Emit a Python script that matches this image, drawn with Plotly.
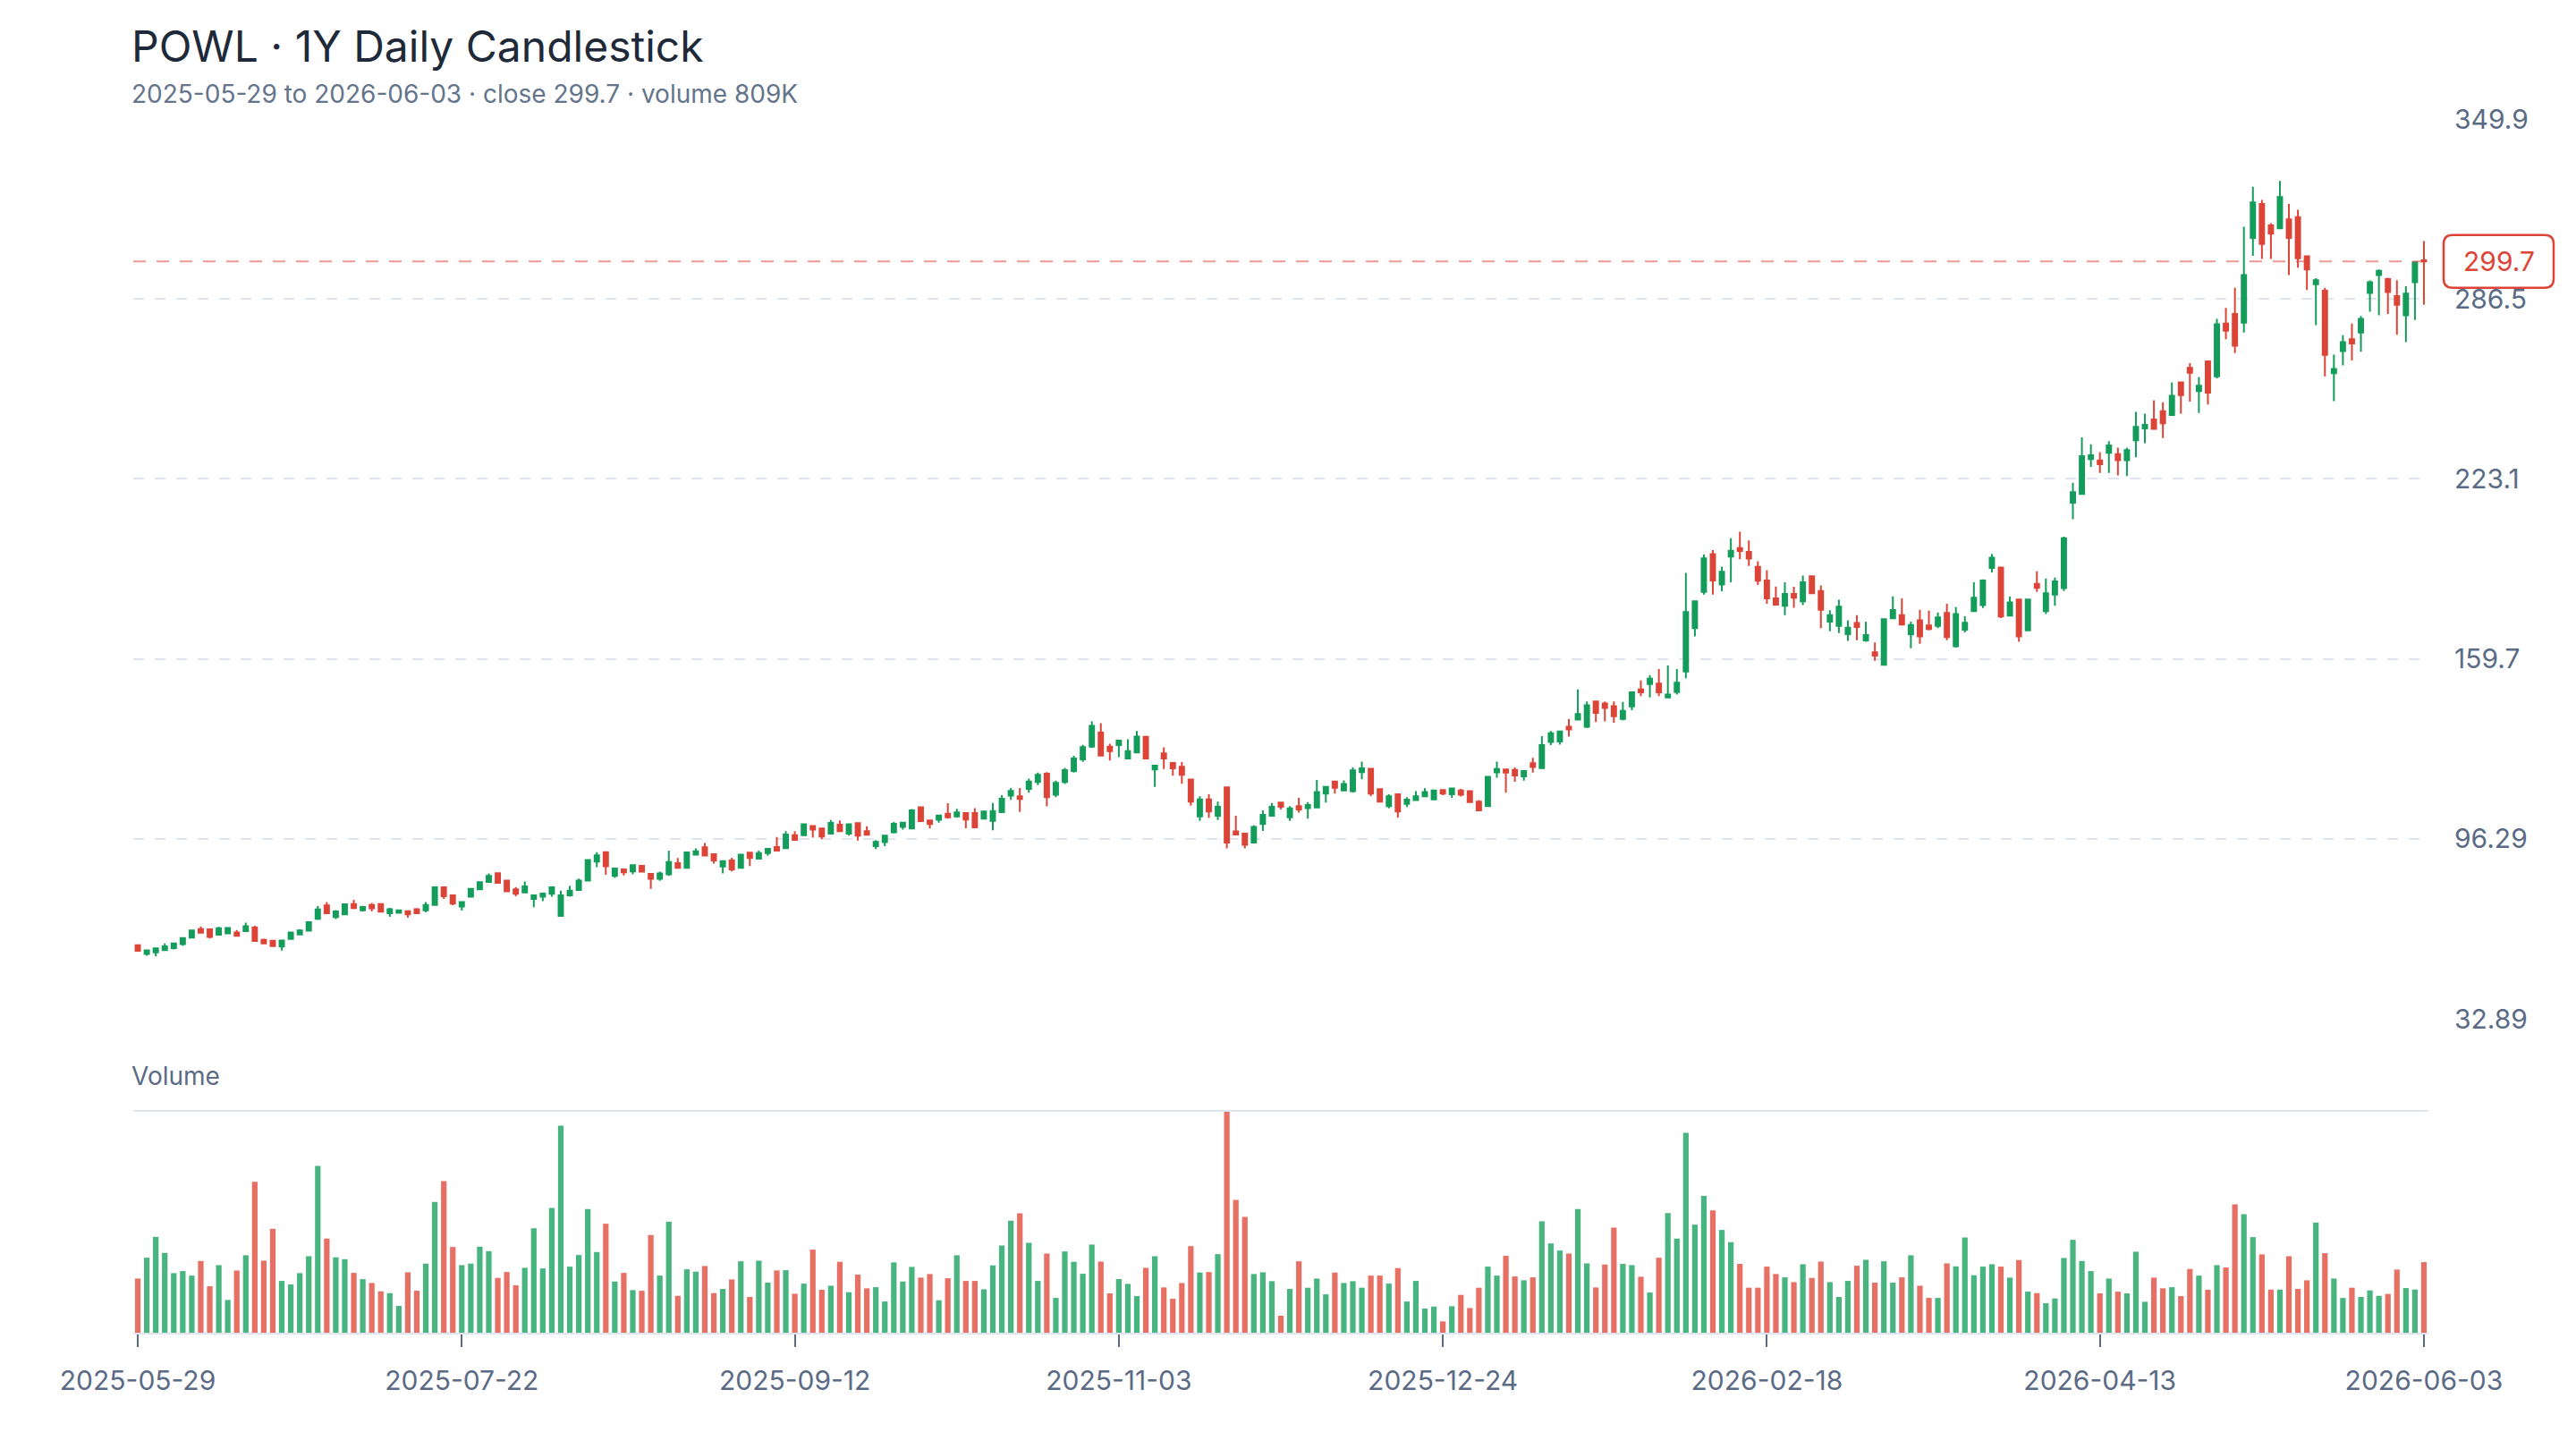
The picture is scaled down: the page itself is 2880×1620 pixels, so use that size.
import pandas as pd
import plotly.graph_objects as go

# ---------------- data ----------------
HOLIDAYS = ["2025-06-19", "2025-07-04", "2025-09-01", "2025-11-27", "2025-12-25",
            "2026-01-01", "2026-01-19", "2026-02-16", "2026-04-03", "2026-05-25"]
dates = pd.bdate_range("2025-05-29", "2026-06-03", freq="C",
                       holidays=HOLIDAYS).strftime("%Y-%m-%d").tolist()

TICK_DATES = ["2025-05-29", "2025-07-22", "2025-09-12", "2025-11-03",
              "2025-12-24", "2026-02-18", "2026-04-13", "2026-06-03"]
PRICE_TICKS = [32.89, 96.29, 159.7, 223.1, 286.5, 349.9]
PRICE_TICK_TEXT = ["32.89", "96.29", "159.7", "223.1", "286.5", "349.9"]
LAST_CLOSE = 299.7
VOL_MAX = 2543

open_ = [58.8, 55.7, 56.3, 57.1, 57.8, 59.2, 61.5, 64.5, 64.4, 62.5, 63.0, 63.3, 63.8, 65.0, 60.7, 60.4, 58.3, 61.0, 62.6, 63.9,
         68.1, 72.8, 68.7, 69.7, 73.3, 71.1, 73.0, 73.3, 70.1, 70.2, 70.8, 71.5, 71.1, 73.0, 79.2, 76.4, 72.4, 75.9, 78.5, 81.1,
         84.2, 81.6, 78.5, 77.4, 75.1, 75.9, 76.9, 69.1, 76.4, 78.3, 81.6, 88.3, 91.6, 83.2, 85.5, 84.8, 86.8, 83.9, 82.2, 83.8,
         87.7, 86.1, 90.7, 93.3, 90.9, 86.5, 88.7, 86.1, 91.4, 89.3, 91.3, 93.4, 93.0, 97.6, 97.6, 100.8, 99.9, 98.1, 101.3, 98.1,
         101.8, 99.0, 93.7, 95.1, 98.6, 100.5, 99.9, 107.4, 102.8, 103.0, 105.1, 104.2, 105.4, 105.4, 103.4, 102.6, 105.7, 111.5, 111.3, 113.9,
         116.3, 119.2, 111.8, 116.3, 120.2, 124.3, 128.8, 133.7, 128.8, 129.3, 124.6, 126.7, 132.2, 120.7, 126.4, 123.0, 121.7, 117.2, 104.2, 110.2,
         104.4, 114.4, 98.9, 98.1, 95.0, 101.5, 104.4, 109.1, 103.9, 107.8, 107.1, 107.3, 112.2, 116.5, 113.3, 113.1, 119.8, 121.0, 113.8, 107.8,
         112.0, 108.6, 109.9, 111.3, 110.2, 113.5, 112.0, 113.3, 113.1, 109.4, 107.8, 119.7, 120.7, 120.6, 118.3, 122.9, 121.2, 130.4, 130.6, 135.8,
         138.3, 135.8, 144.7, 144.0, 143.0, 138.5, 142.95, 148.9, 150.8, 151.0, 146.1, 148.0, 155.2, 170.5, 183.3, 196.6, 185.9, 195.7, 198.7, 197.4,
         192.1, 187.3, 181.0, 178.4, 182.6, 180.0, 188.8, 183.6, 172.8, 171.3, 168.4, 172.3, 166.2, 162.0, 157.6, 174.0, 175.1, 168.3, 173.3, 171.5,
         171.3, 175.9, 164.1, 170.0, 176.5, 178.6, 191.7, 191.9, 174.9, 180.6, 169.7, 186.1, 176.5, 182.3, 184.6, 214.7, 217.8, 230.1, 229.6, 232.3,
         231.8, 229.7, 236.7, 240.9, 244.0, 246.9, 245.6, 257.1, 262.2, 254.0, 264.5, 259.2, 277.8, 281.2, 278.1, 308.0, 320.0, 312.4, 311.4, 314.5,
         315.3, 301.5, 291.7, 289.4, 260.3, 268.1, 272.3, 274.7, 288.6, 294.9, 293.5, 287.5, 280.7, 292.4, 300.1]
high = [59.0, 57.1, 57.8, 59.4, 59.5, 61.4, 64.1, 65.4, 64.5, 65.3, 65.2, 64.2, 66.8, 65.7, 61.1, 60.5, 60.6, 63.4, 64.4, 67.0,
        72.6, 74.0, 71.2, 73.3, 74.8, 72.7, 73.7, 73.4, 72.0, 71.2, 70.9, 71.9, 74.0, 79.5, 79.3, 76.5, 74.1, 78.8, 81.3, 84.1,
        84.3, 81.9, 79.3, 81.3, 76.5, 77.1, 79.3, 78.0, 79.7, 82.3, 88.9, 91.6, 91.7, 85.9, 85.6, 87.1, 86.9, 84.0, 84.7, 92.1,
        89.5, 91.6, 92.9, 94.8, 91.0, 88.5, 89.6, 90.8, 91.5, 92.1, 93.1, 96.9, 99.0, 99.0, 101.5, 100.9, 100.0, 102.9, 102.8, 101.5,
        101.9, 100.7, 95.8, 97.5, 102.2, 102.1, 106.8, 107.5, 102.9, 104.6, 108.8, 106.9, 105.5, 107.1, 106.0, 108.9, 111.7, 114.2, 114.2, 117.5,
        119.6, 119.8, 116.8, 121.3, 125.5, 129.4, 137.7, 137.0, 129.8, 131.0, 131.4, 134.3, 132.3, 122.2, 128.5, 123.1, 123.3, 117.3, 111.3, 112.0,
        109.4, 114.5, 104.4, 98.2, 101.0, 106.3, 108.9, 109.2, 107.8, 110.7, 109.2, 117.0, 114.7, 116.6, 116.9, 121.4, 123.5, 121.1, 113.9, 112.0,
        112.1, 111.0, 113.1, 114.1, 113.4, 113.6, 114.1, 113.9, 113.2, 109.9, 118.2, 123.5, 120.8, 121.4, 120.3, 124.8, 132.5, 134.3, 134.2, 138.5,
        148.9, 144.7, 144.8, 144.7, 144.7, 144.5, 148.0, 152.1, 154.0, 156.1, 157.4, 156.1, 190.0, 180.1, 196.4, 198.0, 192.2, 202.2, 204.5, 201.4,
        194.1, 190.9, 185.2, 186.7, 185.1, 189.0, 188.9, 185.6, 176.8, 180.5, 173.3, 175.1, 172.8, 165.5, 173.8, 181.7, 181.0, 172.8, 177.0, 176.7,
        176.0, 179.1, 177.9, 174.7, 186.7, 187.7, 196.7, 192.0, 181.6, 180.7, 180.7, 190.5, 188.0, 188.3, 202.7, 221.7, 237.7, 235.3, 232.5, 236.4,
        234.1, 234.1, 246.7, 246.1, 250.8, 250.1, 257.1, 257.2, 263.9, 259.0, 264.6, 279.5, 283.3, 290.4, 311.9, 326.0, 321.4, 313.2, 328.1, 320.0,
        317.9, 301.6, 293.8, 290.4, 266.9, 273.7, 277.8, 280.5, 293.0, 296.9, 294.0, 293.1, 291.0, 299.5, 306.9]
low = [56.6, 55.1, 54.9, 57.0, 57.3, 58.6, 61.2, 63.1, 61.2, 62.4, 62.9, 62.0, 63.7, 60.2, 59.3, 58.4, 56.9, 60.9, 62.5, 63.8,
       67.7, 70.0, 68.0, 69.6, 71.5, 70.7, 70.7, 70.5, 68.8, 70.1, 68.5, 70.0, 70.4, 72.9, 75.1, 72.9, 71.0, 75.8, 78.4, 81.0,
       80.7, 77.7, 76.1, 77.3, 72.2, 74.3, 75.9, 69.0, 75.9, 78.2, 81.5, 86.3, 83.6, 82.5, 83.4, 83.8, 84.6, 78.7, 81.5, 83.2,
       86.0, 86.0, 90.6, 90.3, 87.6, 84.1, 84.8, 86.0, 86.7, 89.2, 90.3, 92.0, 92.9, 95.8, 97.5, 96.7, 96.2, 98.0, 98.9, 97.4,
       95.7, 97.6, 92.7, 93.7, 98.2, 99.5, 99.8, 102.4, 99.9, 102.0, 103.4, 103.7, 100.0, 100.2, 103.3, 99.3, 105.6, 110.0, 105.8, 112.5,
       115.2, 107.7, 111.0, 115.6, 119.6, 123.4, 128.3, 125.5, 123.9, 125.1, 124.5, 126.6, 124.5, 114.6, 120.9, 118.5, 115.7, 108.0, 102.6, 103.6,
       102.9, 92.9, 97.7, 92.9, 94.9, 99.1, 104.3, 106.6, 102.6, 105.5, 103.4, 107.2, 109.1, 112.2, 113.2, 112.5, 117.3, 111.3, 109.3, 107.0,
       103.8, 107.5, 109.8, 111.2, 110.1, 111.7, 110.7, 111.2, 109.1, 106.2, 107.7, 117.8, 112.5, 116.4, 116.8, 119.6, 121.1, 129.3, 129.5, 132.3,
       138.2, 135.3, 137.4, 137.7, 137.2, 138.0, 141.6, 146.6, 146.1, 146.6, 146.0, 147.1, 152.9, 167.6, 182.3, 182.3, 183.5, 186.7, 194.8, 192.4,
       185.7, 179.1, 178.7, 175.1, 177.7, 178.6, 182.7, 170.5, 169.4, 168.8, 166.0, 166.3, 165.7, 159.0, 157.5, 173.9, 171.7, 163.4, 165.0, 169.7,
       170.5, 166.3, 163.7, 169.0, 176.4, 177.6, 190.1, 174.1, 174.8, 165.7, 169.4, 183.3, 175.5, 178.4, 183.6, 208.9, 217.7, 227.3, 225.2, 225.2,
       224.3, 224.1, 230.7, 235.7, 240.4, 237.5, 245.5, 246.1, 250.3, 246.3, 249.3, 258.5, 272.3, 267.4, 274.7, 301.7, 300.6, 300.6, 311.3, 294.9,
       297.5, 289.6, 277.3, 259.2, 250.5, 263.1, 264.8, 267.9, 282.0, 280.7, 281.2, 273.9, 271.3, 279.1, 284.4]
close = [56.8, 57.0, 57.7, 58.4, 59.4, 61.3, 64.0, 63.2, 61.7, 64.8, 64.9, 62.1, 65.5, 60.3, 59.4, 58.5, 60.5, 63.3, 64.0, 66.9,
         71.4, 70.1, 70.7, 73.2, 71.9, 72.3, 71.8, 70.6, 71.5, 71.1, 69.7, 70.1, 73.0, 79.2, 76.1, 73.5, 74.0, 78.7, 81.0, 83.2,
         80.8, 77.8, 76.9, 79.5, 76.4, 77.0, 79.2, 76.4, 78.0, 81.6, 88.8, 90.5, 86.6, 85.8, 84.5, 87.0, 84.7, 82.2, 84.1, 88.1,
         86.1, 91.5, 91.9, 90.4, 88.7, 88.4, 85.5, 90.7, 89.5, 91.3, 92.8, 92.1, 97.8, 95.9, 101.4, 99.5, 97.1, 101.9, 99.0, 101.4,
         97.4, 97.7, 95.2, 97.4, 101.6, 102.0, 106.3, 102.5, 101.5, 104.5, 103.9, 105.6, 103.1, 100.3, 105.9, 106.1, 110.4, 113.2, 110.3, 116.5,
         118.8, 111.0, 116.0, 120.5, 124.6, 128.6, 136.1, 125.6, 127.2, 130.9, 127.2, 132.3, 124.6, 122.1, 124.6, 121.1, 118.8, 109.4, 110.2, 105.9,
         107.6, 95.0, 97.8, 94.2, 100.5, 104.7, 107.6, 107.6, 107.0, 106.6, 108.2, 112.8, 114.6, 114.3, 115.6, 120.4, 121.1, 112.2, 109.4, 111.3,
         105.9, 110.1, 111.3, 112.8, 113.3, 112.2, 114.0, 111.8, 109.2, 106.3, 118.1, 120.9, 119.6, 118.6, 120.2, 121.6, 129.3, 133.5, 134.1, 134.8,
         140.3, 143.3, 140.7, 142.4, 139.5, 141.4, 147.9, 147.9, 152.7, 147.9, 147.1, 151.3, 176.2, 180.0, 195.1, 187.3, 190.4, 197.8, 197.7, 195.0,
         187.2, 181.0, 178.8, 182.6, 181.2, 186.7, 182.8, 177.0, 175.1, 178.1, 170.7, 170.9, 168.1, 160.8, 173.7, 176.9, 171.8, 171.6, 167.6, 170.2,
         174.3, 167.4, 175.5, 172.4, 181.2, 187.3, 195.3, 174.6, 179.6, 167.6, 180.6, 184.7, 182.8, 187.0, 202.2, 218.4, 231.1, 231.4, 228.3, 234.9,
         229.7, 233.2, 241.4, 242.1, 240.7, 242.7, 252.4, 252.6, 260.5, 255.9, 253.5, 277.6, 275.3, 270.0, 294.9, 320.5, 305.9, 309.5, 322.4, 308.0,
         300.8, 296.9, 293.1, 266.8, 261.8, 271.3, 270.8, 279.5, 292.4, 296.4, 288.9, 284.4, 288.4, 299.4, 299.7]
volume_k = [621, 860, 1099, 915, 683, 707, 655, 823, 533, 775, 376, 713, 888, 1731, 826, 1191, 594, 553, 683, 877,
            1912, 1079, 864, 843, 686, 614, 570, 475, 454, 307, 693, 481, 792, 1499, 1738, 983, 775, 792, 987, 935,
            628, 696, 543, 744, 1198, 737, 1430, 2373, 758, 891, 1417, 925, 1250, 587, 686, 488, 481, 1120, 655, 1273,
            423, 727, 700, 765, 454, 502, 611, 819, 410, 826, 574, 714, 717, 447, 563, 953, 492, 539, 813, 464,
            666, 509, 522, 358, 806, 587, 755, 632, 673, 372, 625, 888, 594, 594, 498, 772, 1000, 1284, 1369, 1031,
            594, 908, 399, 932, 813, 676, 1011, 816, 451, 615, 560, 420, 744, 877, 519, 389, 570, 993, 690, 696,
            901, 2543, 1523, 1328, 673, 693, 591, 195, 502, 819, 516, 621, 440, 690, 570, 591, 516, 655, 655, 563,
            741, 358, 594, 277, 300, 130, 304, 434, 283, 516, 758, 655, 881, 645, 601, 635, 1277, 1024, 942, 908,
            1417, 795, 519, 782, 1205, 789, 775, 642, 461, 860, 1372, 1079, 2291, 1239, 1570, 1403, 1178, 1038, 789, 516,
            516, 758, 673, 635, 580, 785, 628, 816, 580, 410, 594, 768, 836, 574, 819, 574, 635, 888, 539, 399,
            399, 795, 761, 1092, 659, 758, 785, 758, 632, 833, 471, 454, 338, 393, 857, 1065, 823, 707, 451, 621,
            471, 451, 929, 355, 632, 509, 522, 420, 731, 655, 492, 775, 748, 1471, 1359, 1096, 898, 495, 495, 877,
            502, 601, 1263, 912, 621, 399, 516, 410, 485, 423, 444, 724, 512, 495, 809]

# ---------------- style ----------------
GREEN = "#149c5b"
RED = "#dd4438"
GREEN_VOL = "rgba(20,160,92,0.78)"
RED_VOL = "rgba(224,72,58,0.78)"
GRID = "#dfe4ee"
TEXT = "#5b6b85"
FONT = "Inter, Roboto, sans-serif"

vol_colors = [GREEN_VOL if c >= o else RED_VOL for o, c in zip(open_, close)]
volume = [v * 1000 for v in volume_k]

fig = go.Figure()
fig.add_trace(go.Candlestick(
    x=dates, open=open_, high=high, low=low, close=close,
    increasing=dict(line=dict(color=GREEN, width=2), fillcolor=GREEN),
    decreasing=dict(line=dict(color=RED, width=2), fillcolor=RED),
    whiskerwidth=0, xaxis="x", yaxis="y", showlegend=False, name="POWL"))
fig.add_trace(go.Bar(
    x=dates, y=volume, marker=dict(color=vol_colors, line=dict(width=0)),
    xaxis="x2", yaxis="y2", showlegend=False, name="Volume"))

W, H = 2880, 1620
L, R, T, B = 149, 165, 133, 130
ph = H - T - B  # 1357

price_bottom = (1490 - 1139) / ph
vol_top = (1490 - 1242) / ph

fig.update_layout(
    width=W, height=H,
    margin=dict(l=L, r=R, t=T, b=B, pad=0),
    paper_bgcolor="white", plot_bgcolor="white",
    font=dict(family=FONT, color=TEXT, size=30),
    bargap=0.38,
    xaxis=dict(type="category", domain=[0, 1], anchor="y", range=[-0.5, len(dates) - 0.5],
               showticklabels=False, showgrid=False, zeroline=False, showline=False,
               rangeslider=dict(visible=False), ticks=""),
    yaxis=dict(domain=[price_bottom, 1], anchor="x", side="right",
               range=[PRICE_TICKS[0], PRICE_TICKS[-1]],
               tickvals=PRICE_TICKS, ticktext=PRICE_TICK_TEXT,
               showgrid=True, gridcolor=GRID, gridwidth=2, griddash="12px,12px",
               zeroline=False, showline=False, ticks="", ticklabelstandoff=28,
               tickfont=dict(size=30, color=TEXT)),
    xaxis2=dict(type="category", domain=[0, 1], anchor="y2", matches="x",
                range=[-0.5, len(dates) - 0.5],
                tickvals=TICK_DATES, ticktext=TICK_DATES,
                showgrid=False, zeroline=False, showline=True, linecolor=GRID, linewidth=2,
                ticks="outside", ticklen=14, tickwidth=2, tickcolor=TEXT,
                tickfont=dict(size=30, color=TEXT), ticklabelstandoff=12),
    yaxis2=dict(domain=[0, vol_top], anchor="x2", range=[0, VOL_MAX * 1000],
                showgrid=False, zeroline=False, showline=False, showticklabels=False, ticks=""),
)

# volume panel top line
fig.add_shape(type="line", xref="paper", yref="y2 domain", x0=0, x1=1, y0=1, y1=1,
              line=dict(color=GRID, width=2))
# last close dashed line
fig.add_shape(type="line", xref="paper", yref="y", x0=0, x1=1, y0=LAST_CLOSE, y1=LAST_CLOSE,
              line=dict(color="rgba(224,69,58,0.55)", width=2, dash="14px,12px"), layer="above")
# rounded price tag
x0, x1, hh, r = 17, 140, 29.5, 10
path = (f"M {x0 + r},{-hh} L {x1 - r},{-hh} Q {x1},{-hh} {x1},{-hh + r} "
        f"L {x1},{hh - r} Q {x1},{hh} {x1 - r},{hh} L {x0 + r},{hh} "
        f"Q {x0},{hh} {x0},{hh - r} L {x0},{-hh + r} Q {x0},{-hh} {x0 + r},{-hh} Z")
fig.add_shape(type="path", xref="paper", yref="y", xsizemode="pixel", ysizemode="pixel",
              xanchor=1, yanchor=LAST_CLOSE, path=path,
              line=dict(color=RED, width=2.5), fillcolor="white", layer="above")
fig.add_annotation(xref="paper", yref="y", x=1, y=LAST_CLOSE, xshift=78.5,
                   text=f"{LAST_CLOSE:.1f}", showarrow=False,
                   font=dict(size=30, color=RED, family=FONT), xanchor="center", yanchor="middle")

# titles
fig.add_annotation(xref="paper", yref="paper", x=0, y=(1490 - 51) / ph, xanchor="left", yanchor="middle",
                   xshift=-4, text="POWL · 1Y Daily Candlestick", showarrow=False,
                   font=dict(size=48, color="#1e2939", family=FONT))
fig.add_annotation(xref="paper", yref="paper", x=0, y=(1490 - 105) / ph, xanchor="left", yanchor="middle",
                   xshift=-4,
                   text=f"{dates[0]} to {dates[-1]} · close {close[-1]:.1f} · volume {volume_k[-1]}K",
                   showarrow=False, font=dict(size=28, color="#64748b", family=FONT))
fig.add_annotation(xref="paper", yref="paper", x=0, y=(1490 - 1203) / ph, xanchor="left", yanchor="middle",
                   xshift=-4, text="Volume", showarrow=False, font=dict(size=28, color=TEXT, family=FONT))

fig.write_html("out.html")
